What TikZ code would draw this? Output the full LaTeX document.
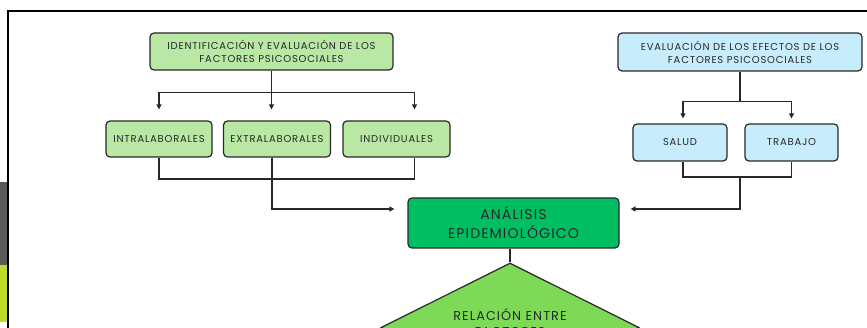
\documentclass[tikz,border=0pt]{standalone}
\usepackage{fontspec}
\setmainfont{Poppins}
\newfontfamily\boxfont[LetterSpace=8]{Poppins}
\usetikzlibrary{arrows.meta}
\usetikzlibrary{positioning}
\usetikzlibrary{shapes.geometric}
\definecolor{factorgreen}{RGB}{185,231,164}
\definecolor{effectblue}{RGB}{199,237,252}
\definecolor{analysisgreen}{RGB}{0,191,99}
\definecolor{relationgreen}{RGB}{126,217,87}
\definecolor{sidegray}{RGB}{90,90,90}
\definecolor{sidelime}{RGB}{192,218,44}
\definecolor{ink}{RGB}{40,40,40}
\tikzset{factor/.style = {draw=ink, line width=1.2pt, rounded corners=4pt,
                          fill=factorgreen, align=center, inner sep=0pt,
                          text=ink, font=\boxfont\fontsize{10}{13}\selectfont},
         effect/.style = {factor, fill=effectblue},
         analysis/.style = {factor, fill=analysisgreen,
                            font=\boxfont\fontsize{14.1}{19}\selectfont},
         relation/.style = {diamond, aspect=2, draw=ink, line width=1.2pt,
                            fill=relationgreen, inner sep=0pt},
         relationtext/.style = {align=center, inner sep=0pt, text=ink,
                                font=\boxfont\fontsize{12.8}{16.5}\selectfont}}

\begin{document}
\begin{tikzpicture}[x=1pt, y=-1pt, line width=1.3pt, draw=ink,
                    >={Triangle[length=5pt, width=5pt]}]
    \clip (0, 0) rectangle (867, 328);
    \fill [sidegray] (0, 182) rectangle (7, 265);
    \fill [sidelime] (0, 265) rectangle (7, 322);
    \draw [line width=2pt, black] (8, 328) -- (8, 11) -- (867, 11);

    \node [factor, minimum width=243pt, minimum height=37pt] (ident) at (271.5, 51.5)
        {IDENTIFICACIÓN Y EVALUACIÓN DE LOS\\FACTORES PSICOSOCIALES};
    \node [factor, minimum width=106pt, minimum height=36pt] (intra) at (159, 139) {INTRALABORALES};
    \node [factor, minimum width=107pt, minimum height=36pt] (extra) at (277, 139) {EXTRALABORALES};
    \node [factor, minimum width=107pt, minimum height=36pt] (indiv) at (396.5, 139) {INDIVIDUALES};

    \node [effect, minimum width=244pt, minimum height=38pt] (efectos) at (740, 52)
        {EVALUACIÓN DE LOS EFECTOS DE LOS\\FACTORES PSICOSOCIALES};
    \node [effect, minimum width=94pt, minimum height=37pt] (salud) at (680, 142.5) {SALUD};
    \node [effect, minimum width=93pt, minimum height=37pt] (trabajo) at (791.5, 142.5) {TRABAJO};

    \node [analysis, minimum width=211pt, minimum height=50pt] (epid) at (513.5, 223)
        {ANÁLISIS\\EPIDEMIOLÓGICO};
    \node [relation, minimum width=258pt, minimum height=129pt] (rel) at (510, 327.5) {};
    \node [relationtext] (reltext) at ([yshift=5pt]rel.center) {RELACIÓN ENTRE\\FACTORES};

    \draw (ident.south) -- ++(0, 22) coordinate (split);
    \draw [->, shorten >=11pt] (split) -| (intra.north);
    \draw [->, shorten >=11pt] (split) -- (split |- extra.north);
    \draw [->, shorten >=11pt] (split) -| ([xshift=18pt]indiv.north);
    \coordinate (joinL) at (272, 179);
    \draw (intra.south) |- (joinL) -| ([xshift=18pt]indiv.south);
    \draw [->, shorten >=13pt] ([xshift=-5pt]extra.south) |- ([yshift=14pt]epid.west);

    \draw (efectos.south) -- ++(0, 30) coordinate (splitR);
    \draw [->, shorten >=5pt] (splitR) -| ([xshift=3pt]salud.north);
    \draw [->, shorten >=5pt] (splitR) -| (trabajo.north);
    \coordinate (joinR) at (740, 177);
    \draw ([xshift=3pt]salud.south) |- (joinR) -| (trabajo.south);
    \draw [->, shorten >=11pt] (joinR) |- ([yshift=14pt]epid.east);

    \draw (rel.north |- epid.south) -- (rel.north);
\end{tikzpicture}
\end{document}
